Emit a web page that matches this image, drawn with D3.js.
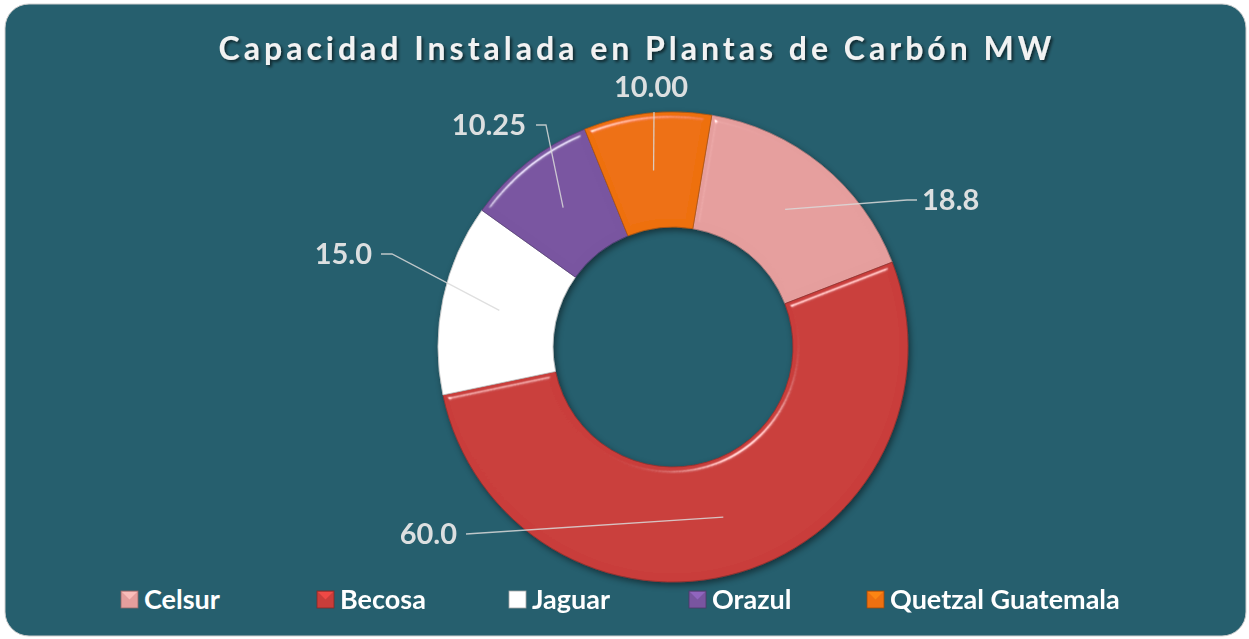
<!DOCTYPE html>
<html><head><meta charset="utf-8">
<script src="https://cdn.jsdelivr.net/npm/d3@7"></script>
<style>html,body{margin:0;padding:0;background:#fff;}svg{display:block;}</style>
</head><body>
<svg id="chart" width="1249" height="639"></svg>
<script>
// ---- data ----
const categories = ["Celsur", "Becosa", "Jaguar", "Orazul", "Quetzal Guatemala"];
const values = [18.8, 60.0, 15.0, 10.25, 10.00];
const valueLabels = ["18.8", "60.0", "15.0", "10.25", "10.00"];
const colors = ["#E59E9D", "#C93D3A", "#FFFFFF", "#7955A0", "#EE7010"];
const title = "Capacidad Instalada en Plantas de Carbón MW";

// ---- layout ----
const W = 1249, H = 639;
const cx = 673, cy = 347, rOuter = 235, rInner = 120;
const startDeg = 9.5;
const labelLayout = [
  {ex: 234, ey: -147, tx: 244, anchor: "start", lx: 249},
  {ex: -207, ey: 187, tx: -207, anchor: "end", lx: -216},
  {ex: -281, ey: -93, tx: -292, anchor: "end", lx: -301},
  {ex: -127, ey: -222, tx: -137, anchor: "end", lx: -147},
  {ex: -19, ey: -235, tx: -19, anchor: "middle", lx: -22, above: true}
];

const svg = d3.select("#chart");
const defs = svg.append("defs");

// bevel filter
const f = defs.append("filter").attr("id", "bevel").attr("x", "-10%").attr("y", "-10%").attr("width", "120%").attr("height", "120%");
f.append("feGaussianBlur").attr("in", "SourceAlpha").attr("stdDeviation", 3).attr("result", "blur");
const sp = f.append("feSpecularLighting").attr("in", "blur").attr("surfaceScale", 4)
  .attr("specularConstant", 0.6).attr("specularExponent", 90).attr("lighting-color", "#ffffff").attr("result", "spec");
sp.append("feDistantLight").attr("azimuth", 235).attr("elevation", 50);
f.append("feComposite").attr("in", "spec").attr("in2", "SourceAlpha").attr("operator", "in").attr("result", "specIn");
f.append("feComposite").attr("in", "SourceGraphic").attr("in2", "specIn").attr("operator", "arithmetic")
  .attr("k1", 0).attr("k2", 1).attr("k3", 1).attr("k4", 0).attr("result", "lit");

const sh = defs.append("filter").attr("id", "shadow").attr("x", "-10%").attr("y", "-10%").attr("width", "120%").attr("height", "120%");
sh.append("feDropShadow").attr("dx", 2).attr("dy", 3).attr("stdDeviation", 3).attr("flood-color", "#000").attr("flood-opacity", 0.45);

const tsh = defs.append("filter").attr("id", "tshadow").attr("x", "-5%").attr("y", "-30%").attr("width", "110%").attr("height", "160%");
tsh.append("feDropShadow").attr("dx", 2).attr("dy", 2).attr("stdDeviation", 1.5).attr("flood-color", "#000").attr("flood-opacity", 0.6);

// background
svg.append("rect").attr("x", 5).attr("y", 4).attr("width", 1241).attr("height", 632).attr("rx", 24)
  .attr("fill", "#265F6E").attr("stroke", "#d0d0d0").attr("stroke-width", 1);

// title
svg.append("text").attr("x", 637).attr("y", 60).attr("text-anchor", "middle")
  .attr("font-family", "Lato, 'Open Sans', sans-serif").attr("font-weight", "bold")
  .attr("font-size", 32).attr("letter-spacing", 4).attr("fill", "#F2F2F2")
  .attr("filter", "url(#tshadow)").text(title);

// donut
const pie = d3.pie().sort(null).value(d => d)
  .startAngle(startDeg * Math.PI / 180).endAngle((startDeg + 360) * Math.PI / 180);
const arcs = pie(values);
const arc = d3.arc().innerRadius(rInner).outerRadius(rOuter);
const mid = d3.arc().innerRadius((rInner + rOuter) / 2).outerRadius((rInner + rOuter) / 2);

const g = svg.append("g").attr("transform", `translate(${cx},${cy})`);
const gs = g.append("g").attr("filter", "url(#shadow)");
gs.selectAll("path.slice").data(arcs).join("path").attr("class", "slice")
  .attr("d", arc).attr("fill", (d, i) => colors[i])
  .attr("stroke", (d, i) => d3.color(colors[i]).darker(0.8)).attr("stroke-width", 0.8)
  .attr("filter", "url(#bevel)");

// leader lines + labels
const lg = g.append("g");
arcs.forEach((d, i) => {
  const c = mid.centroid(d);
  const L = labelLayout[i];
  lg.append("polyline")
    .attr("points", `${c[0]},${c[1]} ${L.ex},${L.ey} ${L.tx},${L.ey}`)
    .attr("fill", "none").attr("stroke", "#D9D9D9").attr("stroke-width", 1.3).attr("opacity", 0.85);
  lg.append("text")
    .attr("x", L.lx).attr("y", L.above ? L.ey - 15 : L.ey + 10)
    .attr("text-anchor", L.anchor)
    .attr("font-family", "Lato, 'Open Sans', sans-serif").attr("font-weight", "bold")
    .attr("font-size", 29).attr("fill", "#DCDFE0").text(valueLabels[i]);
});

// legend
const legendX = [121, 317, 509, 689, 867];
const lgd = svg.append("g");
categories.forEach((name, i) => {
  const x = legendX[i], y = 591, s = 17;
  const base = d3.color(colors[i]);
  lgd.append("rect").attr("x", x).attr("y", y).attr("width", s).attr("height", s)
    .attr("fill", base).attr("stroke", base.darker(1.2)).attr("stroke-width", 0.8);
  lgd.append("path").attr("d", `M${x + 1},${y + 1}L${x + s - 1},${y + 1}L${x + s / 2},${y + s / 2}Z`)
    .attr("fill", base.brighter(0.6)).attr("opacity", 0.8);
  lgd.append("text").attr("x", x + s + 6).attr("y", y + 18)
    .attr("font-family", "Lato, 'Open Sans', sans-serif").attr("font-weight", "bold")
    .attr("font-size", 27).attr("fill", "#FFFFFF").text(name);
});
</script>
</body></html>
